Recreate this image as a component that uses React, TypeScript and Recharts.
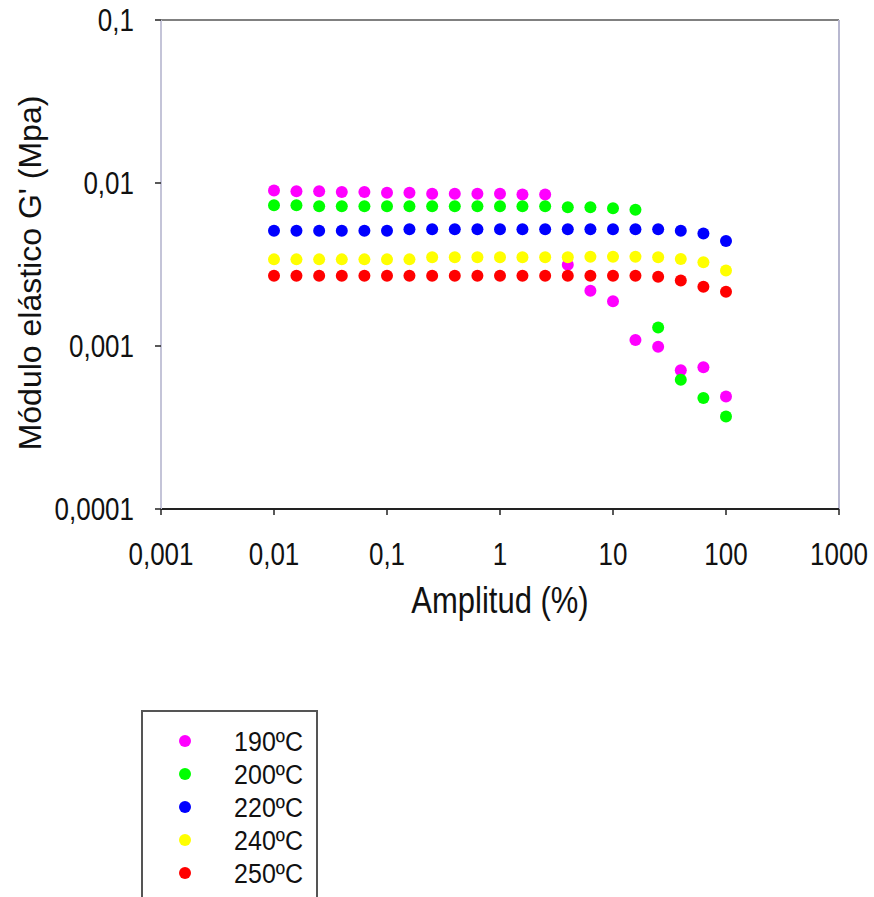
import React from 'react';
import {
  ScatterChart,
  Scatter,
  XAxis,
  YAxis,
  Legend,
  ReferenceLine
} from 'recharts';

// amplitude sweep (%), 5 points per decade
const amplitude = [
  0.01, 0.0158, 0.0251, 0.0398, 0.0631, 0.1, 0.158, 0.251, 0.398, 0.631,
  1, 1.58, 2.51, 3.98, 6.31, 10, 15.8, 25.1, 39.8, 63.1, 100
];

// G' (MPa)
const g190 = [
  0.0090, 0.0089, 0.0089, 0.0088, 0.0088, 0.0087, 0.0087, 0.0086, 0.0086, 0.0086,
  0.0086, 0.0085, 0.0085, 0.00315, 0.00218, 0.00188, 0.00109, 0.00099, 0.00071, 0.00074, 0.00049
];
const g200 = [
  0.0073, 0.0073, 0.0072, 0.0072, 0.0072, 0.0072, 0.0072, 0.0072, 0.0072, 0.0072,
  0.0072, 0.0072, 0.0072, 0.0071, 0.0071, 0.0070, 0.00686, 0.0013, 0.00062, 0.00048, 0.00037
];
const g220 = [
  0.0051, 0.0051, 0.0051, 0.0051, 0.0051, 0.0051, 0.0052, 0.0052, 0.0052, 0.0052,
  0.0052, 0.0052, 0.0052, 0.0052, 0.0052, 0.0052, 0.0052, 0.0052, 0.0051, 0.0049, 0.0044
];
const g240 = [
  0.0034, 0.0034, 0.0034, 0.0034, 0.0034, 0.0034, 0.0034, 0.0035, 0.0035, 0.0035,
  0.0035, 0.0035, 0.0035, 0.0035, 0.00353, 0.00353, 0.00353, 0.0035, 0.00342, 0.00326, 0.00291
];
const g250 = [
  0.0027, 0.0027, 0.0027, 0.0027, 0.0027, 0.0027, 0.0027, 0.0027, 0.0027, 0.0027,
  0.0027, 0.0027, 0.0027, 0.0027, 0.0027, 0.0027, 0.0027, 0.00266, 0.00252, 0.00231, 0.00215
];

const seriesNames = ['190ºC', '200ºC', '220ºC', '240ºC', '250ºC'];
const seriesColors = ['#ff00ff', '#00ff00', '#0000ff', '#ffff00', '#ff0000'];
const seriesValues = [g190, g200, g220, g240, g250];

const xTicks = [0.001, 0.01, 0.1, 1, 10, 100, 1000];
const xTickLabels = ['0,001', '0,01', '0,1', '1', '10', '100', '1000'];
const yTicks = [0.0001, 0.001, 0.01, 0.1];
const yTickLabels = ['0,0001', '0,001', '0,01', '0,1'];

const series = seriesNames.map((name, i) => ({
  name,
  color: seriesColors[i],
  data: amplitude.map((x, j) => ({ x, y: seriesValues[i][j] }))
}));

const FONT = '"Liberation Sans", Arial, sans-serif';
const STRETCH = 1.18;

function XTick(props: any) {
  const { x, y, payload, index } = props;
  const idx = xTicks.indexOf(payload.value);
  return (
    <text
      transform={`translate(${x},${y + 48}) scale(1,${STRETCH})`}
      textAnchor="middle"
      fontFamily={FONT}
      fontSize={26}
      fill="#111"
    >
      {xTickLabels[idx >= 0 ? idx : index]}
    </text>
  );
}

function YTick(props: any) {
  const { x, y, payload, index } = props;
  const idx = yTicks.indexOf(payload.value);
  return (
    <text
      transform={`translate(${x - 19},${y + 11}) scale(1,${STRETCH})`}
      textAnchor="end"
      fontFamily={FONT}
      fontSize={26}
      fill="#111"
    >
      {yTickLabels[idx >= 0 ? idx : index]}
    </text>
  );
}

function Dot(props: any) {
  const { cx, cy, fill } = props;
  if (cx == null || cy == null) return null;
  return <circle cx={cx} cy={cy} r={6} fill={fill} />;
}

function renderLegend() {
  return (
    <div
      style={{
        boxSizing: 'border-box',
        width: 177,
        height: 187,
        border: '2px solid #555',
        borderBottom: 'none',
        background: '#fff',
        paddingTop: 15
      }}
    >
      <svg width={173} height={170}>
        {series.map((s, i) => (
          <g key={s.name}>
            <circle cx={42} cy={14 + i * 33} r={6} fill={s.color} />
            <text
              transform={`translate(160,${24 + i * 33}) scale(1,1.12)`}
              textAnchor="end"
              fontFamily={FONT}
              fontSize={25}
              fill="#111"
            >
              {s.name}
            </text>
          </g>
        ))}
      </svg>
    </div>
  );
}

export default function App() {
  return (
    <div style={{ width: 874, height: 897, background: '#fff' }}>
      <style>{`body{margin:0;background:#fff;}`}</style>
      <ScatterChart
        width={874}
        height={897}
        margin={{ top: 20, right: 35, left: 101, bottom: 328 }}
      >
        <XAxis
          type="number"
          dataKey="x"
          scale="log"
          domain={[0.001, 1000]}
          ticks={xTicks}
          allowDataOverflow
          height={60}
          tick={<XTick />}
          tickSize={6}
          tickLine={{ stroke: '#222', strokeWidth: 1.5 }}
          axisLine={{ stroke: '#222', strokeWidth: 2 }}
          label={(p: any) => (
            <text
              transform={`translate(500,613) scale(1,1.22)`}
              textAnchor="middle"
              fontFamily={FONT}
              fontSize={31}
              fill="#111"
            >
              Amplitud (%)
            </text>
          )}
        />
        <YAxis
          type="number"
          dataKey="y"
          scale="log"
          domain={[0.0001, 0.1]}
          ticks={yTicks}
          allowDataOverflow
          width={60}
          tick={<YTick />}
          tickSize={6}
          tickLine={{ stroke: '#222', strokeWidth: 1.5 }}
          axisLine={{ stroke: '#c4c4d8', strokeWidth: 2 }}
          label={(p: any) => (
            <text
              transform={`translate(41,273) rotate(-90)`}
              textAnchor="middle"
              fontFamily={FONT}
              fontSize={32}
              fill="#111"
            >
              Módulo elástico G' (Mpa)
            </text>
          )}
        />
        <ReferenceLine y={0.1} stroke="#808080" strokeWidth={2} />
        <ReferenceLine x={1000} stroke="#b8b8d0" strokeWidth={2} />
        {series.map(s => (
          <Scatter
            key={s.name}
            name={s.name}
            data={s.data}
            fill={s.color}
            shape={<Dot />}
            isAnimationActive={false}
          />
        ))}
        <Legend
          layout="horizontal"
          verticalAlign="middle"
          align="center"
          content={renderLegend}
          wrapperStyle={{ left: 141, top: 710, width: 177, height: 187 }}
        />
      </ScatterChart>
    </div>
  );
}
